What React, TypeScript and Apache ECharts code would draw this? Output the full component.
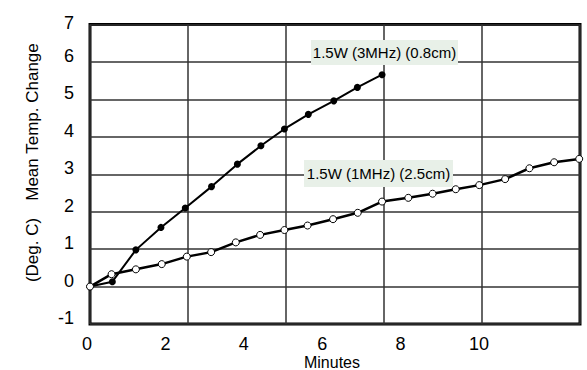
import React, { useEffect, useRef } from "react";
import * as echarts from "echarts";

const xTickLabels = [0, 2, 4, 6, 8, 10];
const yTickLabels = [-1, 0, 1, 2, 3, 4, 5, 6, 7];

const mhz3X = [0, 0.57, 1.17, 1.81, 2.43, 3.1, 3.76, 4.36, 4.96, 5.57, 6.22, 6.82, 7.45];
const mhz3Y = [0, 0.13, 0.98, 1.58, 2.1, 2.67, 3.27, 3.76, 4.21, 4.6, 4.96, 5.32, 5.66];

const mhz1X = [0, 0.55, 1.17, 1.83, 2.47, 3.09, 3.72, 4.34, 4.96, 5.55, 6.2, 6.83, 7.45, 8.12, 8.74, 9.33, 9.93, 10.59, 11.21, 11.84, 12.48];
const mhz1Y = [0, 0.33, 0.46, 0.6, 0.8, 0.92, 1.18, 1.38, 1.51, 1.63, 1.8, 1.97, 2.27, 2.37, 2.48, 2.6, 2.71, 2.87, 3.16, 3.32, 3.41];

const label3 = "1.5W (3MHz) (0.8cm)";
const label1 = "1.5W (1MHz) (2.5cm)";
const xName = "Minutes";
const yNameUnit = "(Deg. C)";
const yNameMain = "Mean Temp. Change";

const FONT = "'Liberation Sans', Arial, sans-serif";

export default function App() {
  const ref = useRef<HTMLDivElement>(null);
  useEffect(() => {
    if (!ref.current) return;
    const chart = echarts.init(ref.current, undefined, { renderer: "svg" });
    const zip = (xs: number[], ys: number[]) => xs.map((x, i) => [x, ys[i]]);
    chart.setOption({
      animation: false,
      backgroundColor: "#ffffff",
      grid: {
        left: 90,
        right: 7,
        top: 24.5,
        bottom: 46,
        show: true,
        borderColor: "#000",
        borderWidth: 3,
        backgroundColor: "transparent",
      },
      xAxis: [
        {
          type: "value",
          min: 0,
          max: 12.5,
          interval: 2,
          axisLine: { show: false },
          axisTick: { show: false },
          splitLine: { show: false },
          axisLabel: {
            color: "#000",
            fontFamily: FONT,
            fontSize: 18,
            margin: 11,
            padding: [0, 6, 0, 0],
            showMaxLabel: false,
            formatter: (v: number) => (xTickLabels.indexOf(v) >= 0 ? String(v) : ""),
          },
        },
        {
          type: "value",
          min: 0,
          max: 12.5,
          interval: 2.5,
          position: "bottom",
          axisLine: { show: false },
          axisTick: { show: false },
          axisLabel: { show: false },
          splitLine: { show: true, lineStyle: { color: "#333", width: 1.5 } },
        },
      ],
      yAxis: {
        type: "value",
        min: -1,
        max: 7,
        interval: 1,
        axisLine: { show: false },
        axisTick: { show: false },
        splitLine: { show: true, lineStyle: { color: "#333", width: 1.5 } },
        axisLabel: {
          color: "#000",
          fontFamily: FONT,
          fontSize: 18,
          margin: 16,
          formatter: (v: number) => {
            if (yTickLabels.indexOf(v) < 0) return "";
            return v === 7 ? "{t|" + v + "}" : "{n|" + v + "}";
          },
          rich: {
            n: { fontFamily: FONT, fontSize: 18, color: "#000", padding: [0, 0, 12, 0] },
            t: { fontFamily: FONT, fontSize: 18, color: "#000", padding: [0, 0, 4, 0] },
          },
        },
      },
      graphic: [
        {
          type: "text",
          z: 100,
          x: 332,
          y: 354,
          style: { text: xName, font: "16px " + FONT, lineHeight: 16, fill: "#000", align: "center", verticalAlign: "top" },
        },
        {
          type: "text",
          z: 100,
          x: 32,
          y: 122,
          rotation: Math.PI / 2,
          style: { text: yNameMain, font: "17px " + FONT, fill: "#000", align: "center", verticalAlign: "middle" },
        },
        {
          type: "text",
          z: 100,
          x: 32,
          y: 250,
          rotation: Math.PI / 2,
          style: { text: yNameUnit, font: "17px " + FONT, fill: "#000", align: "center", verticalAlign: "middle" },
        },
        {
          type: "group",
          z: 100,
          children: [
            { type: "rect", z: 100, shape: { x: 311, y: 40, width: 147, height: 25 }, style: { fill: "#e8f0e8" } },
            {
              type: "text",
              z: 101,
              x: 384.5,
              y: 52.5,
              style: { text: label3, font: "15px " + FONT, fill: "#000", align: "center", verticalAlign: "middle" },
            },
            { type: "rect", z: 100, shape: { x: 304, y: 160, width: 149, height: 27 }, style: { fill: "#e8f0e8" } },
            {
              type: "text",
              z: 101,
              x: 378.5,
              y: 173.5,
              style: { text: label1, font: "15px " + FONT, fill: "#000", align: "center", verticalAlign: "middle" },
            },
          ],
        },
      ],
      series: [
        {
          type: "line",
          name: label3,
          xAxisIndex: 0,
          data: zip(mhz3X, mhz3Y),
          symbol: "circle",
          symbolSize: 7,
          showAllSymbol: true,
          lineStyle: { color: "#000", width: 2 },
          itemStyle: { color: "#000" },
          z: 3,
        },
        {
          type: "line",
          name: label1,
          xAxisIndex: 0,
          data: zip(mhz1X, mhz1Y),
          symbol: "circle",
          symbolSize: 7,
          showAllSymbol: true,
          lineStyle: { color: "#000", width: 2.5 },
          itemStyle: { color: "#fff", borderColor: "#000", borderWidth: 1 },
          z: 4,
        },
      ],
    });
    return () => chart.dispose();
  }, []);
  return <div ref={ref} style={{ position: "fixed", left: 0, top: 0, width: 587, height: 370 }} />;
}
